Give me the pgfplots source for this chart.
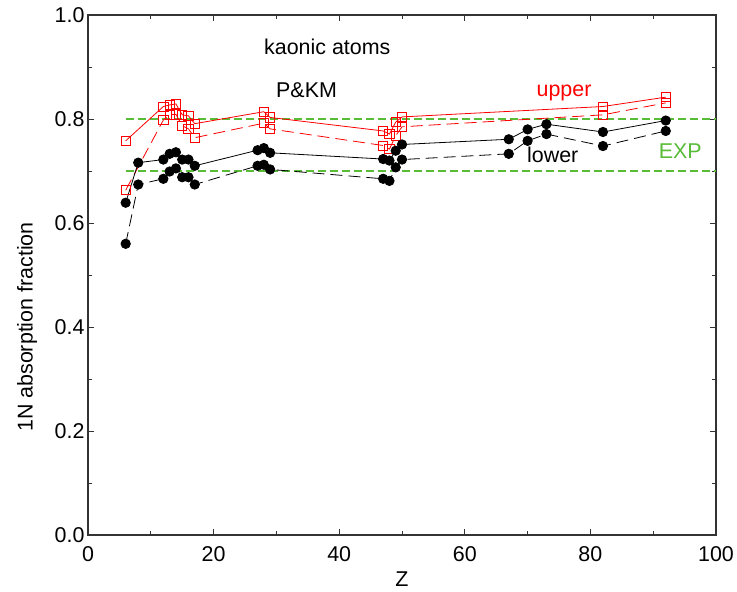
\documentclass[border=0pt]{standalone}
\usepackage{fontspec}
\setmainfont{Liberation Sans}
\usepackage{pgfplots}
\pgfplotsset{compat=1.18}

\definecolor{expgreen}{RGB}{88,188,56}
\definecolor{upred}{RGB}{255,0,0}

\begin{document}
\begin{tikzpicture}[font=\fontsize{21.5}{26}\selectfont]
\useasboundingbox (-88bp,-57bp) rectangle (649bp,535bp);
\begin{axis}[
    at={(0,0)}, anchor=south west,
    scale only axis,
    width=628bp, height=520bp,
    xmin=0, xmax=100, ymin=0, ymax=1,
    xtick={0,20,...,100}, minor xtick={10,30,...,90},
    ytick={0,0.2,...,1.0}, minor ytick={0.1,0.3,...,0.9},
    yticklabel style={/pgf/number format/.cd, fixed, fixed zerofill, precision=1},
    xticklabel style={yshift=-8bp},
    /pgf/number format/assume math mode=true,
    major tick length=6bp, minor tick length=4bp,
    axis line style={line width=1.2bp, black!80},
    every tick/.style={black!80, line width=0.8bp},
    xlabel={Z},
    ylabel={1N absorption fraction},
    xlabel style={at={(axis description cs:0.5,0)}, anchor=center, yshift=-44bp},
    ylabel style={at={(axis description cs:-0.097,0.4)}, anchor=center},
    clip=false,
]
% EXP band
\addplot[expgreen, line width=1.5bp, dash pattern=on 8bp off 4bp] coordinates {(6,0.8) (100,0.8)};
\addplot[expgreen, line width=1.5bp, dash pattern=on 8bp off 4bp] coordinates {(6,0.7) (100,0.7)};

% upper, solid
\addplot[upred, line width=0.8bp, mark=square, mark size=4.6bp, mark options={solid, fill=white, line width=0.8bp}]
coordinates {(6,0.758) (12,0.824) (13,0.827) (14,0.829) (15,0.808) (16,0.806) (17,0.791)
 (28,0.814) (29,0.803) (47,0.777) (48,0.771) (49,0.794) (50,0.804) (82,0.824) (92,0.842)};
% upper, dashed
\addplot[upred, line width=0.8bp, dash pattern=on 12bp off 6bp, mark=square, mark size=4.6bp, mark options={solid, fill=white, line width=0.8bp}]
coordinates {(6,0.663) (12,0.798) (13,0.808) (14,0.809) (15,0.787) (16,0.781) (17,0.764)
 (28,0.792) (29,0.781) (47,0.749) (48,0.742) (49,0.768) (50,0.785) (82,0.808) (92,0.831)};

% lower, solid
\addplot[black, line width=0.8bp, mark=*, mark size=4.7bp, mark options={solid}]
coordinates {(6,0.639) (8,0.716) (12,0.722) (13,0.733) (14,0.736) (15,0.722) (16,0.722) (17,0.710)
 (27,0.740) (28,0.744) (29,0.735) (47,0.723) (48,0.720) (49,0.739) (50,0.751)
 (67,0.761) (70,0.780) (73,0.790) (82,0.775) (92,0.797)};
% lower, dashed
\addplot[black, line width=0.8bp, dash pattern=on 12bp off 6bp, mark=*, mark size=4.7bp, mark options={solid}]
coordinates {(6,0.560) (8,0.674) (12,0.685) (13,0.699) (14,0.705) (15,0.688) (16,0.688) (17,0.674)
 (27,0.710) (28,0.712) (29,0.703) (47,0.685) (48,0.681) (49,0.707) (50,0.722)
 (67,0.733) (70,0.758) (73,0.771) (82,0.748) (92,0.777)};

\node at (axis cs:38.1,0.938) {kaonic atoms};
\node at (axis cs:34.8,0.856) {P\&KM};
\node[text=upred] at (axis cs:75.8,0.851) {upper};
\node at (axis cs:74.0,0.731) {lower};
\node[text=expgreen] at (axis cs:94.3,0.738) {EXP};
\end{axis}
\end{tikzpicture}
\end{document}
